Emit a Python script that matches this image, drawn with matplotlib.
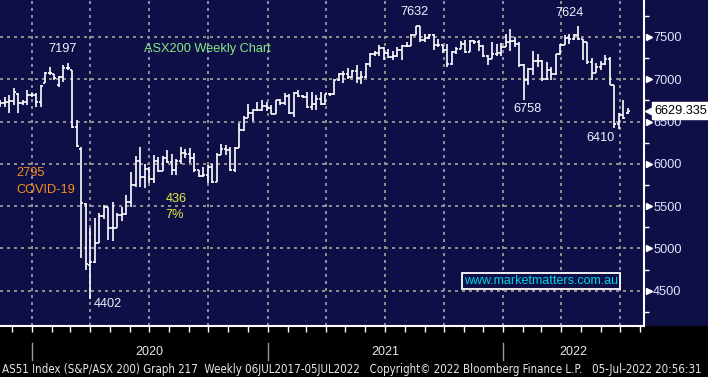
import matplotlib
matplotlib.use("Agg")
import matplotlib.pyplot as plt
import matplotlib.dates as mdates
import matplotlib.transforms as mtransforms
from matplotlib.ticker import MultipleLocator, NullFormatter
import numpy as np
import pandas as pd

plt.rcParams['font.family'] = ['Liberation Sans', 'DejaVu Sans']

# ---- weekly bars (week ending Fridays)
weeks = pd.date_range("2019-11-08", "2022-07-08", freq="W-FRI")

opens = [6700, 6716, 6735, 6740, 6830, 6716, 6735, 6814, 6814, 6735,
         6960, 7071, 7060, 6930, 7030, 7130, 7110, 6441, 6180, 5530,
         4805, 4842, 5068, 5387, 5487, 5242, 5245, 5391, 5405, 5550,
         5755, 6036, 5847, 5942, 5818, 6033, 5921, 6074, 6024, 5928,
         6040, 6126, 6111, 6074, 5925, 5859, 5870, 5960, 5791, 6102,
         6176, 6168, 5927, 6190, 6405, 6539, 6601, 6634, 6642, 6690,
         6664, 6587, 6757, 6715, 6800, 6607, 6840, 6804, 6793, 6673,
         6711, 6767, 6708, 6824, 6828, 6995, 7063, 7062, 7025, 7097,
         7014, 7030, 7179, 7295, 7312, 7369, 7308, 7269, 7273, 7346,
         7394, 7394, 7523, 7628, 7460, 7488, 7522, 7406, 7403, 7342,
         7180, 7320, 7362, 7414, 7324, 7457, 7443, 7397, 7279, 7241,
         7300, 7305, 7387, 7444, 7453, 7420, 7174, 6988, 7120, 7216,
         7221, 7000, 7111, 7064, 7295, 7406, 7493, 7479, 7523, 7474,
         7435, 7205, 7076, 7146, 7183, 7238, 6931, 6475, 6578, 6600]
highs = [6755, 6794, 6814, 6894, 6840, 6755, 6873, 6834, 6834, 6933,
         7090, 7149, 7063, 7040, 7169, 7197, 7115, 6519, 6205, 5540,
         5242, 5361, 5420, 5520, 5494, 5550, 5420, 5490, 5630, 5908,
         6090, 6196, 6000, 5969, 6105, 6078, 6090, 6164, 6114, 6054,
         6196, 6176, 6191, 6125, 5928, 5960, 5987, 6000, 6125, 6235,
         6223, 6196, 6196, 6480, 6566, 6708, 6645, 6735, 6755, 6728,
         6700, 6760, 6770, 6835, 6830, 6850, 6870, 6820, 6850, 6850,
         6820, 6850, 6830, 6840, 7000, 7080, 7100, 7130, 7110, 7170,
         7100, 7190, 7310, 7330, 7400, 7380, 7360, 7340, 7380, 7400,
         7440, 7540, 7632, 7630, 7530, 7530, 7530, 7480, 7410, 7420,
         7330, 7380, 7450, 7470, 7470, 7470, 7460, 7410, 7290, 7440,
         7420, 7430, 7530, 7600, 7500, 7445, 7180, 7130, 7340, 7300,
         7230, 7200, 7150, 7300, 7420, 7520, 7530, 7530, 7624, 7480,
         7440, 7250, 7190, 7220, 7290, 7260, 6935, 6600, 6760, 6660]
lows = [6669, 6669, 6598, 6696, 6598, 6700, 6696, 6790, 6676, 6676,
        6953, 7051, 6992, 6905, 6972, 7110, 6420, 6203, 4888, 4746,
        4402, 4830, 5065, 5350, 5100, 5090, 5240, 5320, 5400, 5494,
        5731, 5723, 5712, 5778, 5778, 5908, 5915, 6007, 5869, 5869,
        5999, 6066, 6007, 5908, 5842, 5850, 5778, 5778, 5782, 6100,
        6105, 5920, 5908, 6185, 6392, 6539, 6511, 6625, 6625, 6620,
        6586, 6586, 6700, 6700, 6594, 6560, 6790, 6780, 6660, 6640,
        6640, 6700, 6700, 6800, 6820, 6980, 6960, 7000, 7010, 6960,
        6950, 7020, 7150, 7280, 7280, 7230, 7250, 7230, 7260, 7230,
        7380, 7390, 7520, 7445, 7440, 7480, 7350, 7380, 7310, 7140,
        7170, 7300, 7360, 7310, 7320, 7420, 7330, 7260, 7170, 7240,
        7280, 7280, 7380, 7335, 7380, 7150, 6758, 6930, 7050, 7150,
        6980, 6990, 6990, 7050, 7290, 7400, 7420, 7460, 7470, 7230,
        7177, 6990, 7070, 7110, 7170, 6930, 6430, 6410, 6535, 6590]
closes = [6716, 6735, 6740, 6853, 6716, 6735, 6814, 6814, 6735, 6921,
          7071, 7078, 7012, 7030, 7130, 7139, 6441, 6217, 5539, 4816,
          4842, 5068, 5387, 5487, 5242, 5245, 5391, 5405, 5550, 5755,
          6036, 5847, 5942, 5818, 6033, 5921, 6074, 6024, 5928, 6040,
          6126, 6111, 6074, 5925, 5859, 5870, 5960, 5791, 6102, 6176,
          6168, 5927, 6190, 6405, 6539, 6601, 6634, 6642, 6690, 6664,
          6587, 6757, 6715, 6800, 6607, 6840, 6804, 6793, 6673, 6711,
          6767, 6708, 6824, 6828, 6995, 7063, 7062, 7025, 7097, 7014,
          7030, 7179, 7295, 7312, 7369, 7308, 7269, 7273, 7346, 7394,
          7394, 7523, 7628, 7460, 7488, 7522, 7406, 7403, 7342, 7180,
          7320, 7362, 7414, 7324, 7457, 7443, 7397, 7279, 7241, 7300,
          7305, 7387, 7444, 7453, 7420, 7174, 6988, 7120, 7216, 7221,
          7000, 7111, 7064, 7295, 7406, 7493, 7479, 7523, 7474, 7435,
          7205, 7076, 7146, 7183, 7238, 6931, 6475, 6578, 6539, 6629]

last_price = 6629.335
y_ticks = [4500, 5000, 5500, 6000, 6500, 7000, 7500]
years = [2020, 2021, 2022]
footer = ("AS51 Index (S&P/ASX 200) Graph 217  Weekly 06JUL2017-05JUL2022   "
          "Copyright\u00a9 2022 Bloomberg Finance L.P.   05-Jul-2022 20:56:31")

NAVY = '#0f0f47'
GRID = '#8c8c8c'
NUM = '#eef2ff'

fig = plt.figure(figsize=(7.08, 3.77), dpi=100, facecolor=NAVY)
# black strip under the plot
fig.patches.append(plt.Rectangle((0, 0), 1, 51 / 377, transform=fig.transFigure,
                                 facecolor='black', edgecolor='none', zorder=-5))
ax = fig.add_axes([0, 51 / 377, 644 / 708, 326 / 377])
ax.set_facecolor(NAVY)

x0 = pd.Timestamp('2019-11-13')
x1 = x0 + pd.Timedelta(days=998)
ax.set_xlim(mdates.date2num(x0), mdates.date2num(x1))
ax.set_ylim(4084, 7937)

# bloomberg draws the weekly bar a few days after the friday
xn = mdates.date2num(weeks + pd.Timedelta(days=5))
tk = 3.3
ax.vlines(xn, lows, highs, color='white', lw=1.2, zorder=3)
ax.hlines(opens, xn - tk, xn, color='white', lw=1.2, zorder=3)
ax.hlines(closes, xn, xn + tk, color='white', lw=1.2, zorder=3)

# axes / grid
for s in ['top', 'left']:
    ax.spines[s].set_visible(False)
for s in ['bottom', 'right']:
    ax.spines[s].set_color('white')
    ax.spines[s].set_linewidth(1.5)

ax.xaxis.set_major_locator(mdates.MonthLocator(bymonth=[1, 4, 7, 10]))
ax.xaxis.set_minor_locator(mdates.MonthLocator())
ax.xaxis.set_major_formatter(NullFormatter())
ax.tick_params(axis='x', which='both', direction='out', length=4, width=1,
               color='white', labelbottom=False)

ax.yaxis.tick_right()
ax.set_yticks(y_ticks)
ax.yaxis.set_minor_locator(MultipleLocator(250))
ax.tick_params(axis='y', which='major', length=0, pad=6.5, labelsize=9.2,
               labelcolor='#dce6ff')
ax.tick_params(axis='y', which='minor', length=3.5, width=1, color='white',
               direction='out')
ax.grid(True, which='major', color=GRID, ls=(0, (1, 2.2)), lw=1.45,
        antialiased=False, zorder=1)

tri = mtransforms.blended_transform_factory(ax.transAxes, ax.transData)
ax.plot(np.full(len(y_ticks), 1 + 5 / 644), y_ticks, ls='none', marker='>',
        ms=5, color='white', mec='white', transform=tri, clip_on=False)

# last price callout
ax.plot([1 + 7 / 644], [last_price], ls='none', marker='<', ms=9, color='white',
        mec='white', transform=tri, clip_on=False, zorder=6)
ax.text(1 + 10 / 644, last_price, f'{last_price:.3f}', transform=tri,
        ha='left', va='center', fontsize=9.2, color='black', zorder=7,
        clip_on=False,
        bbox=dict(boxstyle='square,pad=0.18', fc='white', ec='white'))

# annotations
def d(s):
    return mdates.date2num(pd.Timestamp(s))

ax.text(d('2020-02-18'), 7361, '7197', color=NUM, fontsize=9.2, ha='center', va='center')
ax.text(d('2020-06-23'), 7358, 'ASX200 Weekly Chart', color='#86e886', fontsize=9.2,
        ha='left', va='center')
ax.text(d('2019-12-09'), 5888, '2795', color='#f59020', fontsize=9.2, ha='left', va='center')
ax.text(d('2019-12-09'), 5691, 'COVID-19', color='#f59020', fontsize=9.2, ha='left', va='center')
ax.text(d('2020-04-06'), 4344, '4402', color=NUM, fontsize=9.2, ha='left', va='center')
ax.text(d('2020-07-27'), 5581, '436', color='#e6f03a', fontsize=9.2, ha='left', va='center')
ax.text(d('2020-07-27'), 5396, '7%', color='#e6f03a', fontsize=9.2, ha='left', va='center')
ax.text(d('2021-08-17'), 7791, '7632', color=NUM, fontsize=9.2, ha='center', va='center')
ax.text(d('2022-04-13'), 7780, '7624', color=NUM, fontsize=9.2, ha='center', va='center')
ax.text(d('2022-02-08'), 6649, '6758', color=NUM, fontsize=9.2, ha='center', va='center')
ax.text(d('2022-05-31'), 6302, '6410', color=NUM, fontsize=9.2, ha='center', va='center')
ax.text(d('2021-11-01'), 4619, 'www.marketmatters.com.au', color='#00d4e6', fontsize=9,
        ha='left', va='center', zorder=5,
        bbox=dict(boxstyle='square,pad=0.15', fc=NAVY, ec='white', lw=1.3))

# year labels and separators in the black strip
yr = mtransforms.blended_transform_factory(ax.transData, fig.transFigure)
for y in years:
    start = pd.Timestamp(f'{y}-01-01')
    end = min(pd.Timestamp(f'{y + 1}-01-01'), x1)
    ax.plot([mdates.date2num(start)] * 2, [1 - 343 / 377, 1 - 360 / 377], color='#9a9a9a',
            lw=1, transform=yr, clip_on=False)
    mid = start + (end - start) / 2
    ax.text(mdates.date2num(mid), 1 - 352 / 377, str(y), transform=yr, ha='center',
            va='center', fontsize=9, color='#e6e6e6', clip_on=False)

ft = fig.text(2 / 708, 1 - 369 / 377, footer, ha='left', va='center', fontsize=9.5,
              color='#e6e6e6', family=['Liberation Sans Narrow', 'DejaVu Sans'],
              fontstretch='condensed')
fig.canvas.draw()
w = ft.get_window_extent().width
if w > 704:
    ft.set_fontsize(9.5 * 704 / w)

fig.savefig('out.png', dpi=100, facecolor=fig.get_facecolor())
